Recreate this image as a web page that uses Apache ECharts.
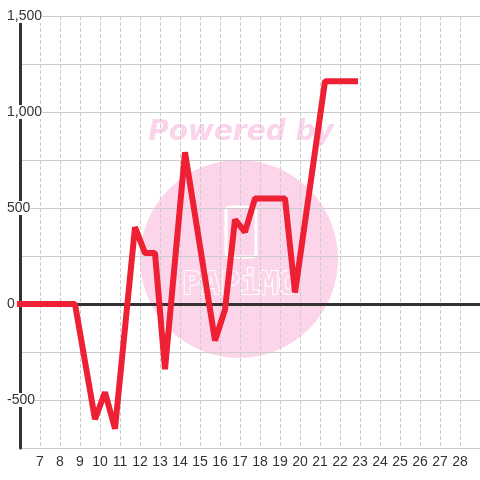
<!DOCTYPE html>
<html>
<head>
<meta charset="utf-8">
<script src="https://cdn.jsdelivr.net/npm/echarts@6/dist/echarts.min.js"></script>
<style>
  html, body { margin: 0; padding: 0; background: #fff; }
  #main { width: 480px; height: 480px; }
</style>
</head>
<body>
<div id="main"></div>
<script>
// x positions (day units) and values
var xValues = [6, 8.75, 9.75, 10.25, 10.75, 11.75, 12.25, 12.75, 13.25, 14.25,
  15.75, 16.25, 16.75, 17.25, 17.75, 19.25, 19.75, 21.25, 22.75];
var yValues = [0, 0, -600, -460, -650, 400, 265, 265, -340, 790,
  -190, -30, 440, 375, 550, 550, 60, 1160, 1160];
var yLabelTicks = [-500, 0, 500, 1000, 1500];

var chart = echarts.init(document.getElementById('main'));

var points = xValues.map(function (x, i) { return [x, yValues[i]]; });

chart.setOption({
  backgroundColor: '#fff',
  animation: false,
  grid: { left: 20, right: 0, top: 16, bottom: 32 },
  graphic: [
    // watermark, behind everything
    { type: 'circle', z: -10, shape: { cx: 239, cy: 259, r: 99 }, style: { fill: '#fcd5ea' } },
    { type: 'text', z: -10, x: 241, y: 133,
      style: { text: 'Powered by', fill: '#fbd3ea', font: 'italic bold 28px "DejaVu Sans"',
        align: 'center', verticalAlign: 'middle' } },
    { type: 'rect', z: -9, shape: { x: 226, y: 207, width: 30, height: 50, r: 4 },
      style: { fill: null, stroke: '#fff', lineWidth: 3 } },
    { type: 'text', z: -9, x: 240, y: 286,
      style: { text: 'PAPiMO', fill: '#fcd5ea', stroke: '#fff', lineWidth: 2,
        font: 'bold 32px "DejaVu Sans Mono"', align: 'center', verticalAlign: 'middle' } }
  ],
  xAxis: [{
    type: 'value',
    min: 6,
    max: 29,
    interval: 1,
    axisLine: { show: false, onZero: false },
    axisTick: { show: false },
    axisLabel: {
      showMinLabel: false,
      showMaxLabel: false,
      color: '#333',
      fontSize: 14,
      fontFamily: 'Liberation Sans',
      margin: 7
    },
    splitLine: { show: true, lineStyle: { color: '#ccc', type: 'dashed' } }
  }, {
    // the heavy zero line
    type: 'value',
    min: 6,
    max: 29,
    position: 'top',
    axisLine: { show: true, onZero: true, lineStyle: { color: '#333', width: 3 } },
    axisTick: { show: false },
    axisLabel: { show: false },
    splitLine: { show: false }
  }],
  yAxis: {
    type: 'value',
    min: -750,
    max: 1500,
    interval: 250,
    axisLine: { show: true, lineStyle: { color: '#333', width: 3 } },
    axisTick: { show: false },
    axisLabel: {
      color: '#333',
      fontSize: 14,
      fontFamily: 'Liberation Sans',
      align: 'left',
      verticalAlign: 'middle',
      margin: 13,
      backgroundColor: '#fff',
      formatter: function (v) {
        return yLabelTicks.indexOf(v) >= 0 ? v.toLocaleString('en-US') : '';
      }
    },
    splitLine: { show: true, lineStyle: { color: '#ccc' } }
  },
  series: [{
    type: 'line',
    data: points,
    showSymbol: false,
    clip: false,
    lineStyle: { color: '#ee2034', width: 6, cap: 'square', join: 'bevel' }
  }]
});
</script>
</body>
</html>
